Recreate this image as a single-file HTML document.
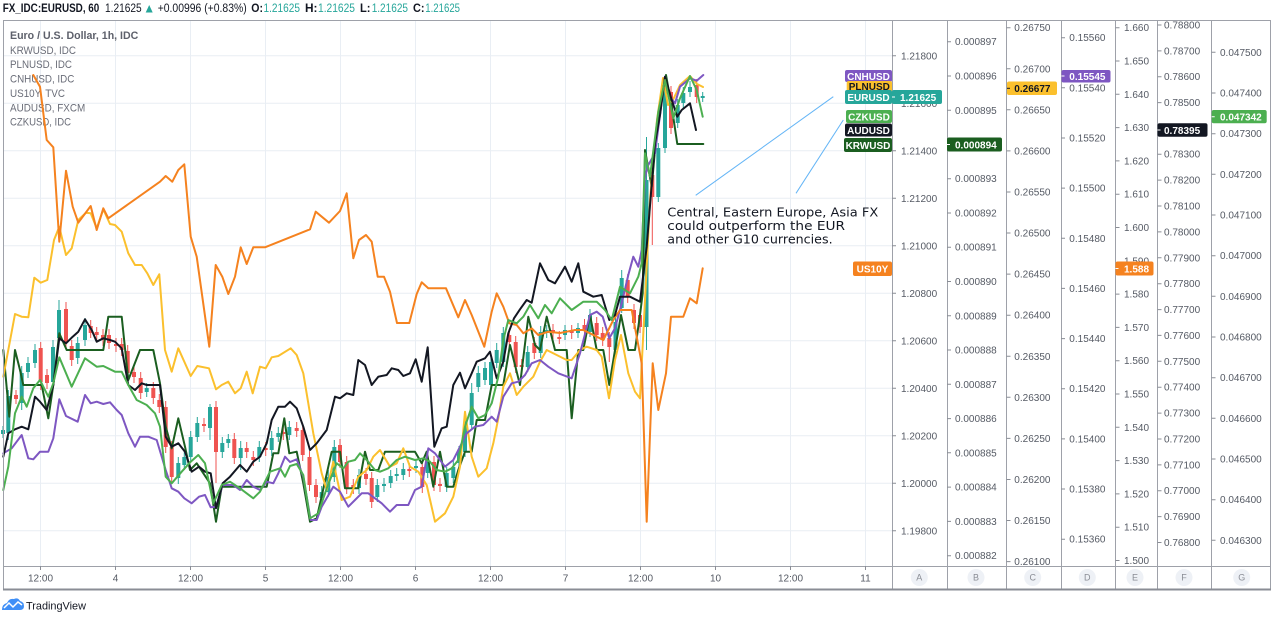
<!DOCTYPE html>
<html><head><meta charset="utf-8"><style>
html,body{margin:0;padding:0;background:#fff;}
svg{display:block;}
text{font-family:"Liberation Sans",sans-serif;}
</style></head><body>
<svg width="1275" height="621" viewBox="0 0 1275 621" xmlns="http://www.w3.org/2000/svg">
<rect x="0" y="0" width="1275" height="621" fill="#fff"/>

<!-- header -->
<g font-size="11.5" fill="#131722">
<text x="2.7" y="12" font-weight="bold" textLength="96.6" lengthAdjust="spacingAndGlyphs">FX_IDC:EURUSD, 60</text>
<text x="105" y="12" textLength="36.7" lengthAdjust="spacingAndGlyphs">1.21625</text>
<text x="157.7" y="12" textLength="89" lengthAdjust="spacingAndGlyphs">+0.00996 (+0.83%)</text>
<text x="251.3" y="12" font-weight="bold" textLength="11.7" lengthAdjust="spacingAndGlyphs">O:</text>
<text x="305" y="12" font-weight="bold" textLength="12.5" lengthAdjust="spacingAndGlyphs">H:</text>
<text x="360" y="12" font-weight="bold" textLength="10.5" lengthAdjust="spacingAndGlyphs">L:</text>
<text x="413" y="12" font-weight="bold" textLength="11.5" lengthAdjust="spacingAndGlyphs">C:</text>
</g>
<g font-size="11.5" fill="#26a69a">
<text x="263.5" y="12" textLength="36.5" lengthAdjust="spacingAndGlyphs">1.21625</text>
<text x="318" y="12" textLength="37" lengthAdjust="spacingAndGlyphs">1.21625</text>
<text x="371.7" y="12" textLength="36.3" lengthAdjust="spacingAndGlyphs">1.21625</text>
<text x="425.3" y="12" textLength="34.7" lengthAdjust="spacingAndGlyphs">1.21625</text>
</g>
<polygon points="145.7,12.5 152.7,12.5 149.2,5" fill="#26a69a"/>

<!-- grid -->
<g stroke="#e9eef4" stroke-width="1">
<path d="M3 55.8H892M3 103.3H892M3 150.8H892M3 198.3H892M3 245.8H892M3 293.3H892M3 340.8H892M3 388.3H892M3 435.8H892M3 483.3H892M3 530.8H892"/>
<path d="M40.5 20V566M115.5 20V566M190.5 20V566M265.5 20V566M340.5 20V566M415.5 20V566M490.5 20V566M565.5 20V566M640.5 20V566M715.5 20V566M790.5 20V566M865.5 20V566"/>
</g>

<!-- legend -->
<text x="10" y="39" font-size="11" font-weight="bold" fill="#5d606b" textLength="128.3" lengthAdjust="spacingAndGlyphs">Euro / U.S. Dollar, 1h, IDC</text>
<g font-size="11" fill="#6a6d78">
<text x="10" y="54" textLength="66" lengthAdjust="spacingAndGlyphs">KRWUSD, IDC</text>
<text x="10" y="68" textLength="62" lengthAdjust="spacingAndGlyphs">PLNUSD, IDC</text>
<text x="10" y="82.7" textLength="64.3" lengthAdjust="spacingAndGlyphs">CNHUSD, IDC</text>
<text x="10" y="97" textLength="55" lengthAdjust="spacingAndGlyphs">US10Y, TVC</text>
<text x="10" y="111.7" textLength="75.3" lengthAdjust="spacingAndGlyphs">AUDUSD, FXCM</text>
<text x="10" y="125.7" textLength="61" lengthAdjust="spacingAndGlyphs">CZKUSD, IDC</text>
</g>

<!-- candles -->
<path fill="none" stroke="#26a69a" stroke-width="1" d="M3 426V438 M8.3 390V440 M21.7 366V410 M28 357V378 M35 344V368 M53 340V388 M59 300V344 M77.7 337V364 M85 318V346 M146.7 383V397 M178.3 457V484 M184.3 451V470 M190.7 431V462 M197.3 417V442 M210 404V440 M222.3 437V458 M228.3 434V448 M240.7 441V470 M259.3 441V462 M271.7 431V456 M278.3 427V442 M289.3 421V440 M321.7 486V504 M328.3 470V497 M334.3 440V482 M359 469V494 M377.3 479V502 M384 478V492 M390.7 470V488 M396.7 468V481 M403.3 463V480 M416 460V473 M427.7 456V478 M446.7 467V492 M453.3 461V483 M459 446V468 M465 415V457 M471.7 383V430 M478.3 366V392 M485 362V385 M491 355V390 M496.7 343V368 M503.3 327V367 M527.7 346V372 M540.7 326V358 M546.7 325V338 M565 325V340 M578 323V338 M590 309V337 M615.5 316V355 M621.7 270V313 M646.5 137V350 M658.3 143V202 M665 84V153 M677.7 99V128 M683.3 87V108 M690 81V97 M702.7 92V102"/>
<g fill="#26a69a">
<rect x="1" y="430" width="4" height="4"/><rect x="6.3" y="396" width="4" height="37"/><rect x="19.7" y="373" width="4" height="30"/><rect x="26" y="363" width="4" height="9"/><rect x="33" y="350" width="4" height="13"/><rect x="51" y="347" width="4" height="35"/><rect x="57" y="310" width="4" height="28"/><rect x="75.7" y="343" width="4" height="15"/><rect x="83" y="325" width="4" height="15"/><rect x="144.7" y="388" width="4" height="4"/><rect x="176.3" y="463" width="4" height="15"/><rect x="182.3" y="457" width="4" height="8"/><rect x="188.7" y="437" width="4" height="20"/><rect x="195.3" y="423" width="4" height="14"/><rect x="208" y="407" width="4" height="21"/><rect x="220.3" y="443" width="4" height="9"/><rect x="226.3" y="439" width="4" height="4"/><rect x="238.7" y="448" width="4" height="10"/><rect x="257.3" y="447" width="4" height="10"/><rect x="269.7" y="438" width="4" height="12"/><rect x="276.3" y="433" width="4" height="4"/><rect x="287.3" y="427" width="4" height="8"/><rect x="319.7" y="492" width="4" height="6"/><rect x="326.3" y="477" width="4" height="15"/><rect x="332.3" y="447" width="4" height="30"/><rect x="357" y="475" width="4" height="13"/><rect x="375.3" y="485" width="4" height="12"/><rect x="382" y="484" width="4" height="2"/><rect x="388.7" y="476" width="4" height="7"/><rect x="394.7" y="474" width="4" height="2"/><rect x="401.3" y="469" width="4" height="6"/><rect x="414" y="466" width="4" height="2"/><rect x="425.7" y="462" width="4" height="11"/><rect x="444.7" y="473" width="4" height="14"/><rect x="451.3" y="467" width="4" height="11"/><rect x="457" y="452" width="4" height="11"/><rect x="463" y="425" width="4" height="27"/><rect x="469.7" y="393" width="4" height="32"/><rect x="476.3" y="373" width="4" height="14"/><rect x="483" y="368" width="4" height="12"/><rect x="489" y="362" width="4" height="23"/><rect x="494.7" y="350" width="4" height="13"/><rect x="501.3" y="333" width="4" height="29"/><rect x="525.7" y="352" width="4" height="15"/><rect x="538.7" y="332" width="4" height="21"/><rect x="544.7" y="330" width="4" height="3"/><rect x="563" y="330" width="4" height="5"/><rect x="576" y="328" width="4" height="5"/><rect x="588" y="315" width="4" height="17"/><rect x="613.5" y="322" width="4" height="28"/><rect x="619.7" y="278" width="4" height="30"/><rect x="644.5" y="180" width="4" height="147"/><rect x="656.3" y="148" width="4" height="49"/><rect x="663" y="90" width="4" height="58"/><rect x="675.7" y="105" width="4" height="18"/><rect x="681.3" y="93" width="4" height="10"/><rect x="688" y="87" width="4" height="5"/><rect x="700.7" y="96" width="4" height="2"/>
</g>
<path fill="none" stroke="#ef5350" stroke-width="1" d="M16 390V404 M40.7 342V390 M47 369V389 M66 302V348 M71.7 340V366 M90.7 320V338 M96.7 327V340 M103 329V346 M109 329V349 M116 338V352 M121.7 338V356 M127.7 345V379 M134 366V383 M140.7 372V399 M153.3 382V404 M159.3 394V413 M165.7 401V453 M171.7 441V483 M204 418V432 M216 401V483 M234.3 433V464 M246.7 442V458 M253.3 451V466 M265.7 442V456 M283.3 426V440 M296.7 422V437 M302.7 424V461 M309.5 451V491 M316 479V503 M340 439V468 M346.7 456V494 M353.3 479V494 M366 468V485 M371.7 472V508 M409.3 463V477 M422.3 461V493 M434 456V491 M440 478V492 M509.3 329V348 M515.7 336V373 M521.7 359V373 M534.3 337V359 M553 324V339 M559.3 331V344 M571.7 325V339 M584.5 319V336 M596.7 317V341 M602.7 327V346 M609.3 332V362 M627.7 274V303 M634 304V329 M640 309V333 M652.3 169V245 M671 86V134 M696.7 79V103"/>
<g fill="#ef5350">
<rect x="14" y="395" width="4" height="4"/><rect x="38.7" y="348" width="4" height="34"/><rect x="45" y="375" width="4" height="8"/><rect x="64" y="309" width="4" height="33"/><rect x="69.7" y="346" width="4" height="14"/><rect x="88.7" y="326" width="4" height="7"/><rect x="94.7" y="332" width="4" height="3"/><rect x="101" y="335" width="4" height="5"/><rect x="107" y="335" width="4" height="8"/><rect x="114" y="344" width="4" height="2"/><rect x="119.7" y="344" width="4" height="6"/><rect x="125.7" y="351" width="4" height="22"/><rect x="132" y="372" width="4" height="5"/><rect x="138.7" y="378" width="4" height="15"/><rect x="151.3" y="388" width="4" height="10"/><rect x="157.3" y="400" width="4" height="7"/><rect x="163.7" y="407" width="4" height="40"/><rect x="169.7" y="447" width="4" height="30"/><rect x="202" y="424" width="4" height="2"/><rect x="214" y="407" width="4" height="45"/><rect x="232.3" y="439" width="4" height="19"/><rect x="244.7" y="448" width="4" height="4"/><rect x="251.3" y="457" width="4" height="3"/><rect x="263.7" y="448" width="4" height="2"/><rect x="281.3" y="432" width="4" height="2"/><rect x="294.7" y="428" width="4" height="3"/><rect x="300.7" y="430" width="4" height="25"/><rect x="307.5" y="457" width="4" height="28"/><rect x="314" y="485" width="4" height="12"/><rect x="338" y="445" width="4" height="17"/><rect x="344.7" y="462" width="4" height="26"/><rect x="351.3" y="485" width="4" height="3"/><rect x="364" y="474" width="4" height="5"/><rect x="369.7" y="478" width="4" height="24"/><rect x="407.3" y="469" width="4" height="2"/><rect x="420.3" y="467" width="4" height="20"/><rect x="432" y="462" width="4" height="23"/><rect x="438" y="484" width="4" height="2"/><rect x="507.3" y="335" width="4" height="7"/><rect x="513.7" y="342" width="4" height="25"/><rect x="519.7" y="365" width="4" height="2"/><rect x="532.3" y="343" width="4" height="10"/><rect x="551" y="330" width="4" height="3"/><rect x="557.3" y="337" width="4" height="2"/><rect x="569.7" y="331" width="4" height="2"/><rect x="582.5" y="325" width="4" height="5"/><rect x="594.7" y="323" width="4" height="12"/><rect x="600.7" y="333" width="4" height="7"/><rect x="607.3" y="338" width="4" height="9"/><rect x="625.7" y="280" width="4" height="17"/><rect x="632" y="310" width="4" height="13"/><rect x="638" y="315" width="4" height="12"/><rect x="650.3" y="175" width="4" height="22"/><rect x="669" y="92" width="4" height="36"/><rect x="694.7" y="85" width="4" height="12"/>
</g>

<!-- series lines -->
<g fill="none" stroke-width="2" stroke-linejoin="round" stroke-linecap="round">
<polyline stroke="#1b5e20" points="3.3,350 9.3,416.7 15,350 20,370 23.3,385 41.7,385 48.3,418.3 53.3,385 59.3,333.3 66.7,350 103.3,350 108.3,316.7 121.7,316.7 128.3,380 140,350 153.3,350 160,383.3 165.7,426.7 171.7,448.3 178.3,418.3 185,446.7 190,470 196.7,463.3 210,483.3 216,521.7 221.7,486.7 266.7,486.7 273.3,453.3 278.3,453.3 284.3,418.3 289.3,453.3 296.7,451.7 303.3,483.3 310,521.7 316.7,518.3 331.7,451.7 340,451.7 345,488.3 358.3,488.3 365,451.7 370,470 378.3,470 385,451.7 415,451.7 421.7,463.3 426.7,451.7 433.3,486.7 440,451.7 446.7,486.7 453.3,486.7 458.3,470 465,451.7 471.7,451.7 476.7,420 485,420 491.7,385 503.3,385 510,345 520,385 528.3,316.7 535,345 540,350 546.7,316.7 555,350 566.7,350 571.7,418.3 578.3,350 583.3,350 590,315 596.7,350 603.3,350 609.3,385 615,350 621,315 628.3,350 635,350 640,315 642.7,293.3 645,150 651.7,186.7 658.3,113.3 666,75 671.7,106.7 677.3,144 703.3,144"/>
<polyline stroke="#fbc02d" points="3.3,376.7 15,314 21.7,316.7 28.3,317.3 34.3,277.7 40.7,282.7 47.3,280 54,240 59.3,226.7 66,255 71.7,248.3 78.3,220 86,212.7 90.7,213.3 96.7,228.3 103.3,209.3 110,224 115,225 121.7,231.7 128.3,253.3 135,265 141.7,265 147.3,273.3 153.3,285 159.3,274.3 165,350 171.7,371.7 178.3,348.3 190.7,376 197.3,366 209,368.3 216,389.3 221.7,385 228.3,381.7 235,393.3 240.7,388.3 246.7,371.7 252.7,393.3 260,366.7 265.7,368.3 271.7,357.3 278.3,356 290.7,348.3 296.7,355 303.3,373.3 308.3,403.3 313.3,433.3 321.7,473.3 326.7,490 333.3,461.7 341.7,500 350,496.7 358.3,476.7 366.7,470 373.3,456.7 380,450 390,466.7 396.7,463.3 403.3,448.3 410,466.7 418.3,471.7 426.7,485 435,521.7 445,513.3 453.3,496.7 460,466.7 465,411.7 471.7,456.7 478.3,476.7 486.7,468.3 493.3,443.3 498.3,418.3 503.3,386.7 510,373.3 516.7,395 523.3,386.7 533.3,376.7 540,361.7 546.7,350 556.7,355 566.7,360 571.7,360 580,350 586.7,346.7 596.7,350 601.7,356.7 609,398.3 615,360 621,335 628.3,373.3 635,391.7 640,398.3 645,300 650,200 657,120 663,78 668,105 673,100 680,85 690,76 697,84 703,87"/>
<polyline stroke="#7e57c2" points="3.3,453.3 11.7,448.3 21.7,435 28.3,458.3 33.3,459.3 40,451.7 48.3,451.7 53.3,438.3 59.3,399.3 66,416 77.7,421.7 85,395 90.7,403.3 96.7,401.7 103.3,404 110,402.3 116.7,410 121.7,415 128.3,433.3 135,446.7 140,436.7 148.3,436.7 156.7,440 165.7,470 171.7,488.3 178.3,491.7 184.3,498.3 191.7,503.3 199,496.7 205,495 210.7,507.3 216,506.7 222.7,485 233.3,485 240,490 246.7,480 253.3,486.7 260,490 266.7,481.7 273.3,483.3 278.3,473.3 285,456.7 290,462 296.7,459.3 303.3,476.7 310.7,520 316.7,520 321.7,506.7 333.3,486.7 340,491.7 348.3,506.7 355,500 361.7,493.3 368.3,493.3 375,498.3 381.7,503.3 390,511.7 396.7,505 408.3,505 415,490 421.7,486.7 428.3,448.3 435,453.3 445,466.7 453.3,460 460,446.7 466.7,433.3 475,426.7 483.3,425 491.7,416.7 496.7,421.7 503.3,396.7 511.7,383.3 518.3,381.7 525,375 531.7,363.3 540,360 548.3,366.7 558.3,373.3 571.7,378.3 580,353.3 590,315 596.7,311.7 602.7,316.7 609.3,338.3 615,328.3 621.7,303.3 628.3,275 633.3,256.7 638.3,266.7 641.7,250 645,176.7 648.3,165 655,153.3 665,76.7 670,96.7 675,103.3 680,86.7 690,78.3 696.7,80.7 703.3,75"/>
<polyline stroke="#f5821f" points="33.3,75 40,86.7 46.7,140 53.3,147.3 59.3,241.7 66,170.7 72.7,206.7 78.3,222.7 90.7,206 96.7,230 103.3,208.3 108.3,218.3 160,181.7 165.7,176 172.3,181.7 178.3,170 184.3,164.3 190.7,236.7 196.7,256.7 209.3,346.7 215.7,265 222.3,276.7 228.3,294 235,276.7 240.7,247.3 246.7,264 253.3,247.3 265,247.3 310,229.3 315.7,211.7 329,222.7 340,211 346.7,193.3 353.3,258.3 359,240 366,235 371.7,241.7 377.7,276.7 384,276.7 390,291.7 397,323 409.3,323 416.7,294 421.7,282.3 428.3,288.3 446,288.3 458.3,317.3 465,300 471.7,315 484.3,346.7 491.7,311.7 496.7,293.3 503.3,306.7 509.3,323.3 516.7,325 523.3,333.3 531.7,328.3 538.3,335 548.3,331.7 560,333 566.7,331.7 575,330 583.3,330 590,333.3 596.7,336.7 603.3,340 613.3,320 620,310 631.7,310 641.7,363.3 646.7,521.7 652.7,363.3 658.3,410 666,373.3 671,316.7 683.3,316.7 690,298.3 696.7,303.3 702.7,268.3"/>
<polyline stroke="#131722" points="3.3,456.7 8.3,433.3 15,429.3 21.7,426.7 28.3,429.3 35,396.7 40,401.7 46.7,410 53.3,385 59.3,338.3 66,343.3 72.7,336.7 78.3,331.7 85,319.3 91.7,330 96.7,341.7 103.3,338.3 110,340 115,341.7 121.7,348.3 128.3,385 135,390 141.7,383.3 146.7,385 160,385 165.7,436.7 171.7,446.7 178.3,443.3 185,451.7 191.7,471.7 199,466.7 205,471.7 210.7,473.3 216,508.3 222.7,483.3 230,476.7 240,465 246.7,471.7 253.3,461.7 260,456.7 266.7,443.3 271.7,420 278.3,406.7 285,406.7 290,401.7 296.7,408.3 303.3,426.7 310,450 316.7,443.3 326.7,430 335,396.7 340,398.3 346.7,393.3 353.3,395 358.3,360 365,365 371.7,385 378.3,376.7 386.7,375 391.7,368.3 398.3,370 403.3,376 410,373.3 415.7,359.3 421.7,381.7 427.7,347.3 434.3,446.7 441.7,428.3 446.7,426.7 453.3,385 460,372.7 465,388.3 471.7,373.3 476.7,361.7 485,358.3 490,351.7 496.7,378.3 503.3,361.7 508.3,333.3 514,318.3 520,309.3 526.7,300 531.7,302.7 540,263.3 548.3,280 555,283.3 565,266.7 571.7,281.7 578.3,263.3 583.3,291.7 593.3,296.7 601.7,295 609.3,320 615,315 620,296.7 630,296.7 640,301.7 646.7,246.7 655,143.3 660,115 665,76.7 671.7,100 677.3,116.7 681.7,110 690,103.3 696,130"/>
<polyline stroke="#4caf50" points="3.3,490 8.3,466.7 15,413.3 21.7,396.7 26.7,406.7 33.3,388.3 40,380 48.3,396.7 53.3,383.3 59.3,357.3 71.7,386.7 85,358.3 96.7,366.7 103.3,366 115,371.7 121.7,371.7 128.3,385 136.7,400 146.7,405 155,413.3 160,426.7 165.7,476.7 171.7,483.3 181.7,471.7 190.7,461.7 198.3,455 205,463.3 213.3,503.3 221.7,485 230,481.7 240,488.3 253.3,498.3 260,491.7 270,471.7 280,468.3 285,476.7 290,466 296.7,464 303.3,475 310,518.3 318.3,513.3 326.7,488.3 336.7,463.3 343.3,468.3 348.3,461.7 355,460 360,453.3 366.7,460 375,470 380,471.7 388.3,468.3 396.7,460 405,456.7 415,460 423.3,458.3 430,461.7 436.7,470 445,471.7 451.7,468.3 458.3,460 465,426.7 471.7,406.7 478.3,418.3 485,415 491.7,403.3 498.3,376.7 503.3,340 508.3,320 516.7,323.3 523.3,316.7 530,305 538.3,318.3 545,305 551.7,313.3 560,298.3 571.7,310 583.3,301.7 596.7,301.7 605,310 611.7,320 620,286.7 630,293.3 638.3,276.7 641.7,263.3 645,153.3 650,176.7 658.3,111.7 665,80 673.3,118.3 680,98.3 690,76 696.7,90 702.7,116.7"/>
</g>

<!-- annotation -->
<g stroke="#64b5f6" stroke-width="1">
<line x1="695.7" y1="195.3" x2="833.3" y2="96.7"/>
<line x1="796" y1="193.3" x2="843.3" y2="120"/>
</g>
<g font-family="'DejaVu Sans',sans-serif" font-size="12.5" fill="#131722">
<text x="667.3" y="216.5" textLength="211" lengthAdjust="spacingAndGlyphs" style="font-family:'DejaVu Sans',sans-serif">Central, Eastern Europe, Asia  FX</text>
<text x="667.3" y="230" textLength="177.7" lengthAdjust="spacingAndGlyphs" style="font-family:'DejaVu Sans',sans-serif">could outperform the EUR</text>
<text x="667.3" y="243.5" textLength="165.3" lengthAdjust="spacingAndGlyphs" style="font-family:'DejaVu Sans',sans-serif">and other G10 currencies.</text>
</g>

<!-- frame & separators -->
<g stroke="#9ea1a9" stroke-width="1" fill="none">
<path d="M3.5 20.5H1270.5V589.5H3.5Z"/>
<path d="M892.5 20V590M947.5 20V590M1006.5 20V590M1061.5 20V590M1115.5 20V590M1157.5 20V590M1211.5 20V590"/>
<path d="M3 566.5H1271"/>
</g>
<path d="M3 589.5H1271" stroke="#8a8d95" stroke-width="2"/>

<!-- axis ticks -->
<g stroke="#8a8d95" stroke-width="1">
<path d="M892 55.8h4M892 103.3h4M892 150.8h4M892 198.3h4M892 245.8h4M892 293.3h4M892 340.8h4M892 388.3h4M892 435.8h4M892 483.3h4M892 530.8h4"/>
<path d="M947 41.7h4M947 76h4M947 110.3h4M947 178.7h4M947 213h4M947 247.2h4M947 281.5h4M947 315.8h4M947 350h4M947 384.3h4M947 418.6h4M947 452.8h4M947 487.1h4M947 521.4h4M947 555.7h4"/>
<path d="M1006.5 27.7h4M1006.5 68.8h4M1006.5 109.8h4M1006.5 150.9h4M1006.5 192h4M1006.5 233h4M1006.5 274.1h4M1006.5 315.2h4M1006.5 356.3h4M1006.5 397.3h4M1006.5 438.4h4M1006.5 479.5h4M1006.5 520.5h4M1006.5 561.6h4"/>
<path d="M1061 37.7h4M1061 87.8h4M1061 138h4M1061 188.1h4M1061 238.3h4M1061 288.4h4M1061 338.6h4M1061 388.7h4M1061 438.9h4M1061 489h4M1061 539.2h4"/>
<path d="M1115.5 27.7h4M1115.5 61h4M1115.5 94.3h4M1115.5 127.6h4M1115.5 160.9h4M1115.5 194.2h4M1115.5 227.5h4M1115.5 294.1h4M1115.5 327.4h4M1115.5 360.7h4M1115.5 394h4M1115.5 427.3h4M1115.5 460.6h4M1115.5 493.9h4M1115.5 527.2h4M1115.5 560.5h4"/>
<path d="M1157.5 25h4M1157.5 50.9h4M1157.5 76.7h4M1157.5 102.6h4M1157.5 154.2h4M1157.5 180.1h4M1157.5 206h4M1157.5 231.9h4M1157.5 257.8h4M1157.5 283.7h4M1157.5 309.6h4M1157.5 335.4h4M1157.5 361.3h4M1157.5 387.2h4M1157.5 413.1h4M1157.5 439h4M1157.5 464.9h4M1157.5 490.7h4M1157.5 516.6h4M1157.5 542.5h4"/>
<path d="M1211.5 52.3h4M1211.5 93h4M1211.5 133.7h4M1211.5 174.3h4M1211.5 215h4M1211.5 255.7h4M1211.5 296.3h4M1211.5 337h4M1211.5 377.7h4M1211.5 418.3h4M1211.5 459h4M1211.5 499.7h4M1211.5 540.3h4"/>
<path d="M40.5 566v4M115.5 566v4M190.5 566v4M265.5 566v4M340.5 566v4M415.5 566v4M490.5 566v4M565.5 566v4M640.5 566v4M715.5 566v4M790.5 566v4M865.5 566v4"/>
</g>

<!-- axis labels -->
<g font-size="10" fill="#555a64">
<text x="901" y="59.3">1.21800</text><text x="901" y="106.8">1.21600</text><text x="901" y="154.3">1.21400</text><text x="901" y="201.8">1.21200</text><text x="901" y="249.3">1.21000</text><text x="901" y="296.8">1.20800</text><text x="901" y="344.3">1.20600</text><text x="901" y="391.8">1.20400</text><text x="901" y="439.3">1.20200</text><text x="901" y="486.8">1.20000</text><text x="901" y="534.3">1.19800</text>
<text x="955" y="45.2">0.000897</text><text x="955" y="79.5">0.000896</text><text x="955" y="113.8">0.000895</text><text x="955" y="182.2">0.000893</text><text x="955" y="216.5">0.000892</text><text x="955" y="250.7">0.000891</text><text x="955" y="285">0.000890</text><text x="955" y="319.3">0.000889</text><text x="955" y="353.5">0.000888</text><text x="955" y="387.8">0.000887</text><text x="955" y="422.1">0.000886</text><text x="955" y="456.3">0.000885</text><text x="955" y="490.6">0.000884</text><text x="955" y="524.9">0.000883</text><text x="955" y="559.2">0.000882</text>
<text x="1014.3" y="31.2">0.26750</text><text x="1014.3" y="72.3">0.26700</text><text x="1014.3" y="113.3">0.26650</text><text x="1014.3" y="154.4">0.26600</text><text x="1014.3" y="195.5">0.26550</text><text x="1014.3" y="236.5">0.26500</text><text x="1014.3" y="277.6">0.26450</text><text x="1014.3" y="318.7">0.26400</text><text x="1014.3" y="359.8">0.26350</text><text x="1014.3" y="400.8">0.26300</text><text x="1014.3" y="441.9">0.26250</text><text x="1014.3" y="483">0.26200</text><text x="1014.3" y="524">0.26150</text><text x="1014.3" y="565.1">0.26100</text>
<text x="1069.3" y="41.2">0.15560</text><text x="1069.3" y="91.3">0.15540</text><text x="1069.3" y="141.5">0.15520</text><text x="1069.3" y="191.6">0.15500</text><text x="1069.3" y="241.8">0.15480</text><text x="1069.3" y="291.9">0.15460</text><text x="1069.3" y="342.1">0.15440</text><text x="1069.3" y="392.2">0.15420</text><text x="1069.3" y="442.4">0.15400</text><text x="1069.3" y="492.5">0.15380</text><text x="1069.3" y="542.7">0.15360</text>
<text x="1124" y="31.2">1.660</text><text x="1124" y="64.5">1.650</text><text x="1124" y="97.8">1.640</text><text x="1124" y="131.1">1.630</text><text x="1124" y="164.4">1.620</text><text x="1124" y="197.7">1.610</text><text x="1124" y="231">1.600</text><text x="1124" y="264.3">1.590</text><text x="1124" y="297.6">1.580</text><text x="1124" y="330.9">1.570</text><text x="1124" y="364.2">1.560</text><text x="1124" y="397.5">1.550</text><text x="1124" y="430.8">1.540</text><text x="1124" y="464.1">1.530</text><text x="1124" y="497.4">1.520</text><text x="1124" y="530.7">1.510</text><text x="1124" y="564">1.500</text>
<text x="1164" y="28.5">0.78800</text><text x="1164" y="54.4">0.78700</text><text x="1164" y="80.2">0.78600</text><text x="1164" y="106.1">0.78500</text><text x="1164" y="157.7">0.78300</text><text x="1164" y="183.6">0.78200</text><text x="1164" y="209.5">0.78100</text><text x="1164" y="235.4">0.78000</text><text x="1164" y="261.3">0.77900</text><text x="1164" y="287.2">0.77800</text><text x="1164" y="313.1">0.77700</text><text x="1164" y="338.9">0.77600</text><text x="1164" y="364.8">0.77500</text><text x="1164" y="390.7">0.77400</text><text x="1164" y="416.6">0.77300</text><text x="1164" y="442.5">0.77200</text><text x="1164" y="468.4">0.77100</text><text x="1164" y="494.2">0.77000</text><text x="1164" y="520.1">0.76900</text><text x="1164" y="546">0.76800</text>
<text x="1220" y="55.8">0.047500</text><text x="1220" y="96.5">0.047400</text><text x="1220" y="137.2">0.047300</text><text x="1220" y="177.8">0.047200</text><text x="1220" y="218.5">0.047100</text><text x="1220" y="259.2">0.047000</text><text x="1220" y="299.8">0.046900</text><text x="1220" y="340.5">0.046800</text><text x="1220" y="381.2">0.046700</text><text x="1220" y="421.8">0.046600</text><text x="1220" y="462.5">0.046500</text><text x="1220" y="503.2">0.046400</text><text x="1220" y="543.8">0.046300</text>
</g>

<!-- time axis -->
<g font-size="10" fill="#555a64" text-anchor="middle">
<text x="40.5" y="581.5">12:00</text><text x="115.5" y="581.5">4</text><text x="190.5" y="581.5">12:00</text><text x="265.5" y="581.5">5</text><text x="340.5" y="581.5">12:00</text><text x="415.5" y="581.5">6</text><text x="490.5" y="581.5">12:00</text><text x="565.5" y="581.5">7</text><text x="640.5" y="581.5">12:00</text><text x="715.5" y="581.5">10</text><text x="790.5" y="581.5">12:00</text><text x="865.5" y="581.5">11</text>
</g>
<g fill="#eef1f6">
<circle cx="919.3" cy="577.5" r="8.5"/><circle cx="976" cy="577.5" r="8.5"/><circle cx="1032.7" cy="577.5" r="8.5"/><circle cx="1087.3" cy="577.5" r="8.5"/><circle cx="1135" cy="577.5" r="8.5"/><circle cx="1184" cy="577.5" r="8.5"/><circle cx="1241.7" cy="577.5" r="8.5"/>
</g>
<g font-size="9" fill="#8a8d95" text-anchor="middle">
<text x="919.3" y="580.7">A</text><text x="976" y="580.7">B</text><text x="1032.7" y="580.7">C</text><text x="1087.3" y="580.7">D</text><text x="1135" y="580.7">E</text><text x="1184" y="580.7">F</text><text x="1241.7" y="580.7">G</text>
</g>

<!-- price labels in pane -->
<g font-size="10" font-weight="bold" text-anchor="middle">
<rect x="845" y="70" width="47" height="12" rx="2" fill="#7e57c2"/><text x="868.5" y="79.8" fill="#fff">CNHUSD</text>
<rect x="846.7" y="81" width="45.3" height="11" rx="2" fill="#fbc02d"/><text x="869.3" y="90" fill="#131722">PLNUSD</text>
<rect x="845" y="90" width="47" height="14" rx="2" fill="#26a69a"/><text x="868.5" y="100.8" fill="#fff">EURUSD</text>
<rect x="846" y="110" width="46" height="13" rx="2" fill="#4caf50"/><text x="869" y="120.3" fill="#fff">CZKUSD</text>
<rect x="845" y="123.5" width="47" height="13" rx="2" fill="#131722"/><text x="868.5" y="133.8" fill="#fff">AUDUSD</text>
<rect x="844" y="138" width="48" height="14" rx="2" fill="#1b5e20"/><text x="868" y="148.8" fill="#fff">KRWUSD</text>
<rect x="853" y="261.5" width="39" height="14.5" rx="2" fill="#f5821f"/><text x="872.5" y="272.5" fill="#fff">US10Y</text>
</g>
<!-- price labels on axes -->
<g font-size="10" font-weight="bold">
<rect x="892" y="90" width="50" height="14" rx="2" fill="#26a69a"/><text x="900" y="100.8" fill="#fff">1.21625</text>
<rect x="947" y="137.5" width="55" height="14" rx="2" fill="#1b5e20"/><text x="955" y="148.3" fill="#fff">0.000894</text>
<rect x="1007" y="81.5" width="50" height="13.5" rx="2" fill="#fbc02d"/><text x="1014.3" y="92" fill="#131722">0.26677</text>
<rect x="1061.5" y="70" width="49" height="12.5" rx="2" fill="#7e57c2"/><text x="1069.3" y="80" fill="#fff">0.15545</text>
<rect x="1115.5" y="261.5" width="38" height="14" rx="2" fill="#f5821f"/><text x="1124" y="272.3" fill="#fff">1.588</text>
<rect x="1157.5" y="123.3" width="50" height="13.4" rx="2" fill="#131722"/><text x="1164" y="133.8" fill="#fff">0.78395</text>
<rect x="1211.7" y="110" width="55" height="13.3" rx="2" fill="#4caf50"/><text x="1220" y="120.5" fill="#fff">0.047342</text>
</g>
<g stroke="#fff" stroke-width="1">
<path d="M892 97h3M947 144.5h3M1061.5 76h3M1115.5 268.5h3M1157.5 130h3M1211.7 116.7h3"/>
</g>
<path d="M1007 88.3h3" stroke="#131722" stroke-width="1"/>

<!-- TradingView logo -->
<path d="M2 610 Q2 604 7 603 Q9 598 14 599 Q18 597 20 601 Q24 602 24 606 Q24 610 20 610 Z" fill="#3f8ff7"/>
<polyline points="4,608 9,603 13,607 18,602 22,605" fill="none" stroke="#fff" stroke-width="1.5"/>
<text x="26" y="609.5" font-size="11" fill="#131722" textLength="60" lengthAdjust="spacingAndGlyphs">TradingView</text>
</svg>
</body></html>
